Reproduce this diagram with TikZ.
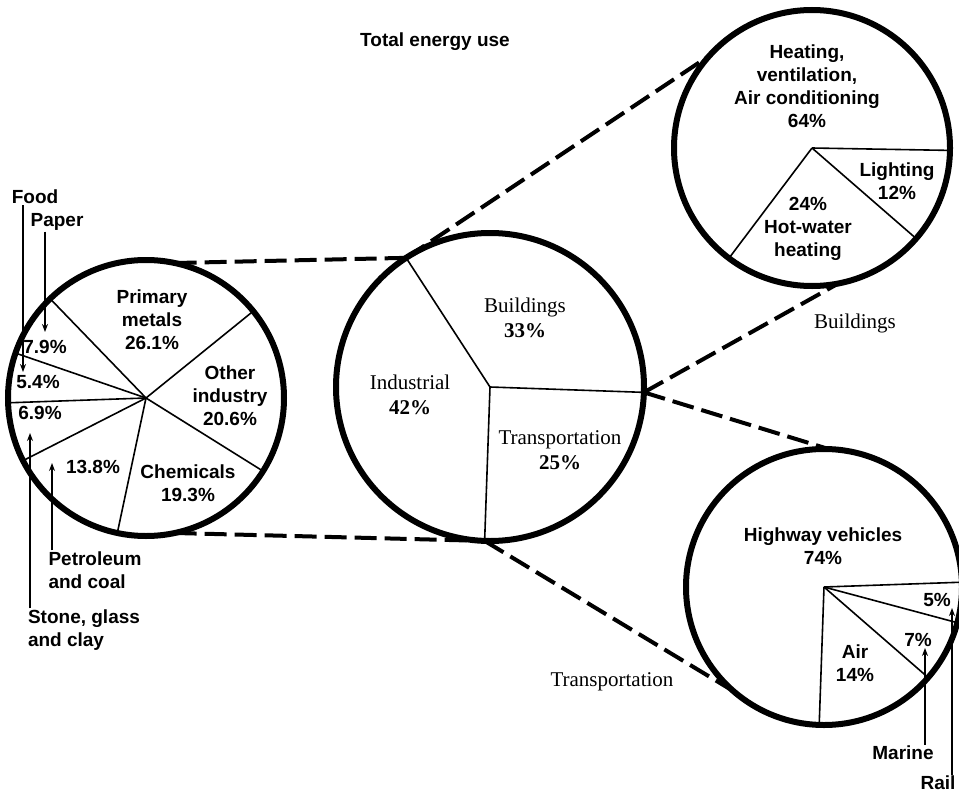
\documentclass[tikz,border=0pt]{standalone}
\usepackage{fontspec}
\setmainfont{Liberation Serif}
\newfontfamily\handfont{Liberation Sans}
\usepackage{tikz}
\usetikzlibrary{positioning, arrows.meta}

\begin{document}
\begin{tikzpicture}[
    x=1pt, y=1pt,
    >={Stealth[length=8pt, width=6pt]},
    pie/.style={draw, circle, line width=6pt, outer sep=0pt, inner sep=0pt},
    spoke/.style={line width=1.6pt},
    zoomline/.style={line width=4pt, dash pattern=on 22pt off 8pt},
    hand/.style={font=\handfont\bfseries\fontsize{19}{23}\selectfont, align=center, inner sep=1pt},
    print/.style={font=\fontsize{21}{25}\selectfont, align=center, inner sep=1pt},
    pointer/.style={->, line width=1.4pt}
]
\useasboundingbox (0,0) rectangle (959,-795);

% Pies
\node[pie, minimum size=276pt] (ind) at (146,-398) {};
\node[pie, minimum size=308pt] (tot) at (490,-387) {};
\node[pie, minimum size=276pt] (bld) at (812,-148) {};
\node[pie, minimum size=276pt] (trn) at (824,-587) {};

% Slices
\foreach \a in {134, 39, 328, 258, 207, 182, 161}
    \draw[spoke] (ind.center) -- (ind.\a);
\foreach \a in {123, 358, 268}
    \draw[spoke] (tot.center) -- (tot.\a);
\foreach \a in {359, 319, 233}
    \draw[spoke] (bld.center) -- (bld.\a);
\foreach \a in {2, 345, 319, 268}
    \draw[spoke] (trn.center) -- (trn.\a);

% Zoom lines
\draw[zoomline] (ind.78) -- (tot.123);
\draw[zoomline] (ind.282) -- (tot.268);
\draw[zoomline] (tot.123) -- (bld.138);
\draw[zoomline] (tot.358) -- (bld.281);
\draw[zoomline] (tot.358) -- (trn.88);
\draw[zoomline] (tot.268) -- (trn.229);

% Labels
\node[hand] (title) at (435,-42) {Total energy use};

\node[hand] (metals) at (152,-320) {Primary\\metals\\26.1\%};
\node[hand] (other) at (230,-396) {Other\\industry\\20.6\%};
\node[hand] (chem) at (188,-483) {Chemicals\\19.3\%};
\node[hand] (petropct) at (93,-467) {13.8\%};
\node[hand] (stonepct) at (40,-413) {6.9\%};
\node[hand] (foodpct) at (38,-382) {5.4\%};
\node[hand] (paperpct) at (45,-347) {7.9\%};

\node[print] (indlbl) at (410,-395) {Industrial\\\textbf{42\%}};
\node[print] (bldlbl) at (525,-318) {Buildings\\\textbf{33\%}};
\node[print] (trnlbl) at (560,-450) {Transportation\\\textbf{25\%}};

\node[hand] (hvac) at (807,-86) {Heating,\\ventilation,\\Air conditioning\\64\%};
\node[hand] (light) at (897,-181) {Lighting\\12\%};
\node[hand] (water) at (808,-229) {24\%\\Hot-water\\heating};

\node[hand] (hwy) at (823,-546) {Highway vehicles\\74\%};
\node[hand] (railpct) at (937,-600) {5\%};
\node[hand] (marinepct) at (918,-640) {7\%};
\node[hand] (air) at (855,-663) {Air\\14\%};

\node[print] (bldname) at (855,-323) {Buildings};
\node[print] (trnname) at (612,-682) {Transportation};

% Pointers
\node[hand] (food) at (35,-197) {Food};
\node[hand] (paper) at (57,-222) {Paper};
\node[hand, align=left] (petro) at (95,-570) {Petroleum\\and coal};
\node[hand, align=left] (stone) at (84,-630) {Stone, glass\\and clay};
\node[hand] (marine) at (903,-753) {Marine};
\node[hand] (rail) at (938,-783) {Rail};

\coordinate (foodtip) at (23,-372);
\coordinate (papertip) at (45,-332);
\coordinate (petrotip) at (52,-463);
\coordinate (stonetip) at (30,-433);
\coordinate (marinetip) at (925,-648);
\coordinate (railtip) at (952,-608);

\draw[pointer] (food.south -| foodtip) -- (foodtip);
\draw[pointer] (paper.south -| papertip) -- (papertip);
\draw[pointer] (petro.north -| petrotip) -- (petrotip);
\draw[pointer] (stone.north -| stonetip) -- (stonetip);
\draw[pointer] (marine.north -| marinetip) -- (marinetip);
\draw[pointer] (rail.north -| railtip) -- (railtip);
\end{tikzpicture}
\end{document}
